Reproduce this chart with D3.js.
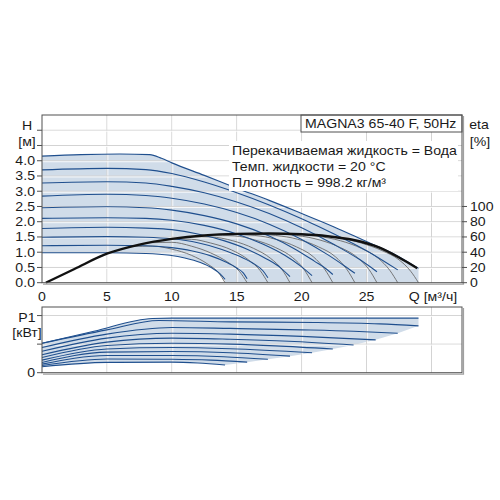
<!DOCTYPE html>
<html><head><meta charset="utf-8">
<script src="https://cdn.jsdelivr.net/npm/d3@7"></script>
<style>
body{margin:0;background:#fff}
text{font-family:"Liberation Sans",Arial,sans-serif;fill:#1a1a1a}
</style></head>
<body><svg id="c" width="500" height="500"></svg>
<script>
// ---------- data ----------
const flowTicks = [0, 5, 10, 15, 20, 25];
const flowGrid = [5, 10, 15, 20, 25, 30];
const headTicks = [0, 0.5, 1, 1.5, 2, 2.5, 3, 3.5, 4, 4.5, 5];
const headLabels = ["0.0","0.5","1.0","1.5","2.0","2.5","3.0","3.5","4.0"];
const etaTicks = [0, 20, 40, 60, 80, 100];
const powerTicks = [0, 1, 2];
const powerLabels = ["0"];

const title = "MAGNA3 65-40 F, 50Hz";
const infoLines = ["Перекачиваемая жидкость = Вода", "Темп. жидкости = 20 °C", "Плотность = 998.2 кг/м³"];

// head curves [Q m3/h, H m]
const head1 = [[0,4.15],[3,4.2],[6,4.22],[8.3,4.2],[9.2,4.08],[10,3.93],[12.5,3.52],[15,3.1],[17.5,2.7],[20,2.27],[22.5,1.83],[25,1.35],[27,0.97],[29,0.47]];
const head2 = [[0,3.7],[5,3.75],[8,3.71],[10,3.58],[12.5,3.3],[15,2.95],[17.5,2.55],[20,2.1],[22.5,1.6],[25,1.05],[27.4,0.42]];
const head3 = [[0,3.27],[5,3.31],[8,3.27],[10,3.16],[12.5,2.95],[15,2.65],[17.5,2.27],[20,1.8],[22.5,1.25],[24.5,0.75],[25.8,0.36]];
const head4 = [[0,2.84],[5,2.9],[8,2.86],[10,2.77],[12.5,2.58],[15,2.3],[17.5,1.92],[20,1.42],[22,0.92],[23.3,0.55],[24.1,0.31]];
const head5 = [[0,2.46],[5,2.49],[8,2.46],[10,2.38],[12.5,2.2],[15,1.93],[17.5,1.53],[19.5,1.1],[21,0.7],[21.9,0.45],[22.4,0.27]];
const head6 = [[0,2.11],[5,2.13],[8,2.11],[10,2.05],[12.5,1.88],[15,1.6],[17,1.27],[18.7,0.9],[19.9,0.55],[20.8,0.23]];
const head7 = [[0,1.78],[5,1.82],[8,1.79],[10,1.74],[12,1.6],[14,1.38],[15.8,1.1],[17.3,0.78],[18.4,0.48],[19.1,0.2]];
const head8 = [[0,1.49],[5,1.51],[8,1.49],[10,1.44],[12,1.31],[13.8,1.1],[15.3,0.85],[16.4,0.6],[17,0.4],[17.4,0.16]];
const head9 = [[0,1.21],[5,1.23],[8,1.21],[10,1.15],[11.5,1.05],[13,0.88],[14.2,0.67],[15,0.48],[15.5,0.32],[15.8,0.13]];
const head10 = [[0,0.98],[5,0.98],[8,0.96],[9.85,0.9],[11,0.81],[12.2,0.66],[13.1,0.48],[13.7,0.3],[14.1,0.11]];

// efficiency [Q, eta %]
const etaMain = [[0.3,0],[2.5,18],[5,38],[7.5,50],[10,57.5],[12.5,62],[15,64],[17.5,64.5],[20,63.5],[22,61],[24,56],[26,46],[27.5,33],[28.9,19]];
const etaArc10 = [[7,47.5],[8.5,48],[10,44],[11.5,36],[12.8,24],[13.6,13],[14.1,0]];
const etaArc9 = [[8.5,52.5],[10,53],[11.5,48],[13,39],[14.3,27],[15.2,15],[15.8,0]];
const etaArc8 = [[10,57.5],[11.5,57],[13,52],[14.6,43],[15.9,30],[16.8,16],[17.4,0]];
const etaArc7 = [[11.5,60.5],[13,60],[14.7,55],[16.3,45],[17.6,32],[18.5,17],[19.1,0]];
const etaArc6 = [[13,62.5],[14.8,61.5],[16.4,56],[18,46],[19.3,33],[20.2,17],[20.8,0]];
const etaArc5 = [[14.5,63.5],[16.4,62],[18,57],[19.6,47],[20.9,34],[21.8,17],[22.4,0]];
const etaArc4 = [[16,64.2],[18,62],[19.7,57],[21.3,47],[22.6,34],[23.5,17],[24.1,0]];
const etaArc3 = [[17.5,64.5],[19.6,62],[21.4,56],[23,46],[24.3,33],[25.2,17],[25.8,0]];
const etaArc2 = [[19,64],[21.2,61],[23,55],[24.6,45],[25.9,32],[26.8,16],[27.4,0]];
const etaArc1 = [[20.5,63],[22.8,59],[24.6,52],[26.2,42],[27.5,30],[28.4,15],[29,0]];

// power curves [Q, P1]
const power1 = [[0,1.03],[4,1.45],[8.5,1.9],[10,1.91],[20,1.91],[29,1.91]];
const power2 = [[0,1.03],[5,1.5],[9,1.83],[14.5,1.78],[21,1.76],[26,1.71],[29,1.64]];
const power3 = [[0,0.88],[5,1.35],[10,1.58],[14.5,1.55],[20,1.5],[24,1.45],[27.4,1.38]];
const power4 = [[0,0.75],[5,1.21],[10,1.38],[14.5,1.35],[20,1.27],[25.7,1.15]];
const power5 = [[0,0.63],[5,1.07],[10,1.21],[14.5,1.17],[19,1.1],[24,0.97]];
const power6 = [[0,0.53],[5,0.95],[10,1.03],[14.5,1.0],[18,0.94],[22.4,0.83]];
const power7 = [[0,0.44],[5,0.83],[10,0.88],[14.5,0.84],[20.8,0.7]];
const power8 = [[0,0.36],[5,0.72],[10,0.74],[14.5,0.7],[19.1,0.58]];
const power9 = [[0,0.3],[5,0.6],[10,0.6],[14,0.56],[17.4,0.47]];
const power10 = [[0,0.25],[5,0.48],[10,0.47],[13,0.44],[15.8,0.37]];
const power11 = [[0,0.21],[5,0.36],[10,0.37],[12,0.34],[14.1,0.27]];

const headCurves = [head1,head2,head3,head4,head5,head6,head7,head8,head9,head10];
const etaArcs = [etaArc1,etaArc2,etaArc3,etaArc4,etaArc5,etaArc6,etaArc7,etaArc8,etaArc9,etaArc10];
const powerCurves = [power1,power2,power3,power4,power5,power6,power7,power8,power9,power10,power11];

// ---------- scales ----------
const L = 42, R = 462, T = 115, B = 282.7, PT = 307, PB = 372.7;
const x = d3.scaleLinear().domain([0, 32.35]).range([L, R]);
const yH = d3.scaleLinear().domain([0, 5.5]).range([B, T]);
const yE = d3.scaleLinear().domain([0, 220]).range([B, T]);
const yP = d3.scaleLinear().domain([0, 2.3]).range([PB, PT]);

const svg = d3.select("#c");
const BLUE = "#1f4f8e", FILL = "#d0dce9", GRID = "#d3d3d3", FRAME = "#505050";
const FS = 12.5, SX = 1.13;

function label(g, px, py, str, anchor) {
  g.append("text").attr("transform", `translate(${px},${py}) scale(${SX},1)`)
    .attr("text-anchor", anchor || "start").attr("font-size", FS).text(str);
}

const lineH = d3.line().x(d => x(d[0])).y(d => yH(d[1])).curve(d3.curveMonotoneX);
const lineE = d3.line().x(d => x(d[0])).y(d => yE(d[1])).curve(d3.curveMonotoneX);
const lineP = d3.line().x(d => x(d[0])).y(d => yP(d[1])).curve(d3.curveMonotoneX);

function grid(g, y0, y1, hVals, yScale) {
  flowGrid.forEach(v => {
    g.append("line").attr("x1", x(v)).attr("x2", x(v)).attr("y1", y0).attr("y2", y1).attr("stroke", GRID);
    g.append("line").attr("x1", x(v)+1).attr("x2", x(v)+1).attr("y1", y0).attr("y2", y1).attr("stroke", "#fff").attr("stroke-opacity", 0.8);
  });
  hVals.forEach(v => {
    g.append("line").attr("x1", L).attr("x2", R).attr("y1", yScale(v)).attr("y2", yScale(v)).attr("stroke", GRID);
    g.append("line").attr("x1", L).attr("x2", R).attr("y1", yScale(v)+1).attr("y2", yScale(v)+1).attr("stroke", "#fff").attr("stroke-opacity", 0.8);
  });
}

// ---------- top plot ----------
const gTop = svg.append("g");
const lastTop = head1[head1.length-1], lastLow = head10[head10.length-1];
const fillTop = lineH(head1) + "L" + x(lastTop[0]) + "," + yH(0) + "L" + x(lastLow[0]) + "," + yH(0) +
  lineH(head10.slice().reverse()).replace(/^M/, "L") + "Z";
gTop.append("path").attr("d", fillTop).attr("fill", FILL);
grid(gTop, T, B, headTicks.slice(1), yH);

gTop.selectAll("path.arc").data(etaArcs).join("path")
  .attr("d", lineE).attr("fill", "none").attr("stroke", "#6a6a6a").attr("stroke-width", 0.9);
gTop.selectAll("path.hc").data(headCurves).join("path")
  .attr("d", lineH).attr("fill", "none").attr("stroke", BLUE).attr("stroke-width", 1.1);
gTop.append("path").attr("d", lineE(etaMain)).attr("fill", "none").attr("stroke", "#111").attr("stroke-width", 2.4);

// info box
gTop.append("rect").attr("x", 229).attr("y", 141).attr("width", 229).attr("height", 50).attr("fill", "#fff");
infoLines.forEach((s, i) => label(gTop, 232, 155 + i * 16, s));

// title box
gTop.append("rect").attr("x", 301).attr("y", 115).attr("width", 161).attr("height", 17)
  .attr("fill", "#fff").attr("stroke", FRAME).attr("stroke-width", 1);
label(gTop, 305, 128, title);

// frame
gTop.append("rect").attr("x", L).attr("y", T).attr("width", R - L).attr("height", B - T)
  .attr("fill", "none").attr("stroke", FRAME).attr("stroke-width", 1);
gTop.append("path").attr("d", `M${R+1.5},${T+1}V${B+1.5}H${L+1}`).attr("fill","none").attr("stroke","#a0a0a0").attr("stroke-width",1.2);

// left axis ticks
gTop.selectAll("line.tl").data(headTicks).join("line")
  .attr("x1", L - 5).attr("x2", L).attr("y1", d => yH(d)).attr("y2", d => yH(d)).attr("stroke", FRAME);
headLabels.forEach((s, i) => label(gTop, 35, yH(headTicks[i]) + 4.5, s, "end"));
// right eta ticks
gTop.selectAll("line.tr").data(etaTicks).join("line")
  .attr("x1", R).attr("x2", R + 5).attr("y1", d => yE(d)).attr("y2", d => yE(d)).attr("stroke", FRAME);
etaTicks.forEach(v => label(gTop, 470, yE(v) + 4.5, String(v)));

label(gTop, 27, 130, "H", "middle");
label(gTop, 27, 146, "[м]", "middle");
label(gTop, 479, 129, "eta", "middle");
label(gTop, 480, 146, "[%]", "middle");

// x labels
flowTicks.forEach(v => label(svg, x(v), 301, String(v), "middle"));
label(svg, 433, 301, "Q [м³/ч]", "middle");

// ---------- bottom plot ----------
const gBot = svg.append("g");
const pEnds = powerCurves.slice(1).map(c => c[c.length - 1]);
const fillBot = lineP(power1) + pEnds.map(p => "L" + x(p[0]) + "," + yP(p[1])).join("") +
  lineP(power11.slice().reverse()).replace(/^M/, "L") + "Z";
gBot.append("path").attr("d", fillBot).attr("fill", FILL);
grid(gBot, PT, PB, powerTicks.slice(1), yP);
gBot.selectAll("path.pc").data(powerCurves).join("path")
  .attr("d", lineP).attr("fill", "none").attr("stroke", BLUE).attr("stroke-width", 1.1);
gBot.append("rect").attr("x", L).attr("y", PT).attr("width", R - L).attr("height", PB - PT)
  .attr("fill", "none").attr("stroke", FRAME).attr("stroke-width", 1);
gBot.append("path").attr("d", `M${R+1.5},${PT+1}V${PB+1.5}H${L+1}`).attr("fill","none").attr("stroke","#a0a0a0").attr("stroke-width",1.2);
gBot.selectAll("line.tl").data(powerTicks).join("line")
  .attr("x1", L - 5).attr("x2", L).attr("y1", d => yP(d)).attr("y2", d => yP(d)).attr("stroke", FRAME);
powerLabels.forEach(s => label(gBot, 35, yP(0) + 4.5, s, "end"));
label(gBot, 27, 322, "P1", "middle");
label(gBot, 27, 337, "[кВт]", "middle");
</script></body></html>
